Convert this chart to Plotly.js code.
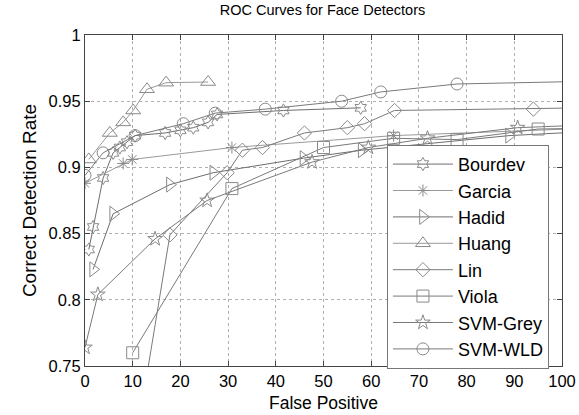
<!DOCTYPE html>
<html>
<head>
<meta charset="utf-8">
<script src="https://cdn.plot.ly/plotly-3.0.1.min.js"></script>
<style>html,body{margin:0;padding:0;background:#fff;}#chart{width:579px;height:415px;}</style>
</head>
<body>
<div id="chart"></div>
<script>
const seriesNames = ["Bourdev","Garcia","Hadid","Huang","Lin","Viola","SVM-Grey","SVM-WLD"];

const bourdevX = [0.8, 1.7, 3.8, 5.9, 7.3, 8.8, 10.5, 16.8, 20, 22.7, 25.8, 27.7, 41.6, 57.8];
const bourdevY = [0.838, 0.855, 0.892, 0.911, 0.915, 0.919, 0.924, 0.926, 0.928, 0.930, 0.934, 0.940, 0.943, 0.945];

const garciaX = [0, 8, 9.9, 30.8, 64.7, 105];
const garciaY = [0.888, 0.903, 0.906, 0.915, 0.924, 0.9295];

const hadidX = [1.7, 5.9, 17.8, 26.9, 45.8, 58, 88.9, 105];
const hadidY = [0.823, 0.865, 0.887, 0.896, 0.907, 0.913, 0.924, 0.927];

const huangX = [0.8, 5.2, 8.0, 10.1, 13, 17, 25.8];
const huangY = [0.906, 0.926, 0.934, 0.943, 0.959, 0.964, 0.9645];

const linX = [11, 17.8, 29.8, 33, 37.2, 46, 55, 58.6, 64.9, 94, 105];
const linY = [0.70, 0.849, 0.896, 0.913, 0.915, 0.926, 0.930, 0.933, 0.943, 0.944, 0.945];

const violaX = [10, 30.8, 50, 64.7, 78, 95, 105];
const violaY = [0.760, 0.884, 0.915, 0.922, 0.921, 0.929, 0.9295];

const svmGreyX = [0, 2.7, 14.7, 25.6, 47.6, 59.4, 71.8, 90.7, 105];
const svmGreyY = [0.764, 0.804, 0.846, 0.875, 0.904, 0.915, 0.922, 0.930, 0.932];

const svmWldX = [0, 3.8, 10.5, 20.6, 27.3, 37.8, 53.8, 62, 78, 105];
const svmWldY = [0.894, 0.911, 0.924, 0.933, 0.941, 0.944, 0.950, 0.957, 0.963, 0.965];

const xTicks = [0,10,20,30,40,50,60,70,80,90,100];
const yTicks = [0.75,0.8,0.85,0.9,0.95,1];
const yTickLabels = ["0.75","0.8","0.85","0.9","0.95","1"];

const xs = [bourdevX, garciaX, hadidX, huangX, linX, violaX, svmGreyX, svmWldX];
const ys = [bourdevY, garciaY, hadidY, huangY, linY, violaY, svmGreyY, svmWldY];
const symbols = ["hexagram-open","asterisk-open","triangle-right-open","triangle-up-open","diamond-open","square-open","star-open","circle-open"];
const sizes = [10, 10, 13, 13, 11, 12, 11, 12];
const lineColors = ["#6e6e6e","#9a9a9a","#6e6e6e","#9a9a9a","#7a7a7a","#7a7a7a","#7a7a7a","#7a7a7a"];

const traces = seriesNames.map((n, i) => ({
  type: "scatter", mode: "lines+markers", name: n,
  x: xs[i], y: ys[i],
  line: {color: lineColors[i], width: 1},
  marker: {symbol: symbols[i], size: sizes[i], color: "#8a8a8a", line: {color: "#8a8a8a", width: 1}},
  cliponaxis: true
}));

const layout = {
  width: 579, height: 415,
  margin: {l: 85, r: 17, t: 35, b: 49},
  paper_bgcolor: "#fff", plot_bgcolor: "#fff",
  font: {family: "Arial, Liberation Sans, sans-serif", color: "#000"},
  title: {text: "ROC Curves for Face Detectors", x: 0.557, xanchor: "center", y: 0.988, yanchor: "top", font: {size: 14.5, color: "#000"}},
  xaxis: {
    range: [0, 100], tickvals: xTicks, ticktext: xTicks.map(String),
    showgrid: true, gridcolor: "#b0b0b0", griddash: "dot", gridwidth: 1,
    showline: true, linecolor: "#444", linewidth: 1, mirror: "ticks",
    ticks: "inside", ticklen: 5, tickcolor: "#444",
    tickfont: {size: 16.5}, zeroline: false,
    title: {text: "False Positive", font: {size: 17.5}, standoff: 7}
  },
  yaxis: {
    range: [0.75, 1], tickvals: yTicks, ticktext: yTickLabels,
    showgrid: true, gridcolor: "#b0b0b0", griddash: "dot", gridwidth: 1,
    showline: true, linecolor: "#444", linewidth: 1, mirror: "ticks",
    ticks: "inside", ticklen: 5, tickcolor: "#444",
    tickfont: {size: 16.5}, zeroline: false,
    title: {text: "Correct Detection Rate", font: {size: 19}, standoff: 6}
  },
  showlegend: true,
  legend: {
    x: 0.633, y: 0.668, xanchor: "left", yanchor: "top",
    bgcolor: "#fff", bordercolor: "#777", borderwidth: 1,
    font: {size: 18, color: "#000"}, itemwidth: 60, tracegroupgap: 0
  }
};

Plotly.newPlot("chart", traces, layout, {staticPlot: true, displayModeBar: false});
</script>
</body>
</html>
